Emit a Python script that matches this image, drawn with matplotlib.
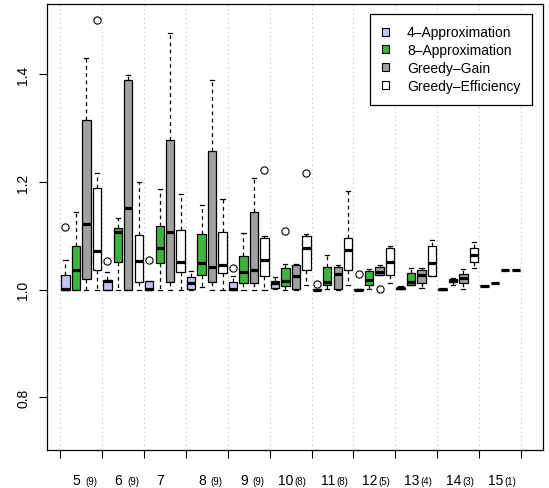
import numpy as np
import matplotlib
matplotlib.use('Agg')
import matplotlib.pyplot as plt
from matplotlib.patches import Patch

plt.rcParams['font.family'] = ['Liberation Sans', 'DejaVu Sans']

# instance sizes on the x axis and number of instances per size
sizes = ['5', '6', '7', '8', '9', '10', '11', '12', '13', '14', '15']
counts = ['(9)', '(9)', '', '(9)', '(9)', '(8)', '(8)', '(5)', '(4)', '(3)', '(1)']

series_names = ['4\u2013Approximation', '8\u2013Approximation', 'Greedy\u2013Gain', 'Greedy\u2013Efficiency']
series_colors = ['#C4C4F2', '#3DB53D', '#A0A0A0', '#FFFFFF']

# box statistics per size: [whislo, q1, med, q3, whishi]
approx4 = [
    [1.000, 1.000, 1.001, 1.028, 1.055],
    [1.000, 1.000, 1.016, 1.018, 1.032],
    [1.000, 1.000, 1.002, 1.016, 1.016],
    [1.000, 1.001, 1.012, 1.024, 1.035],
    [1.000, 1.000, 1.001, 1.014, 1.026],
    [1.001, 1.003, 1.012, 1.017, 1.023],
    [1.000, 1.000, 1.000, 1.001, 1.001],
    [1.000, 1.000, 1.000, 1.001, 1.001],
    [1.002, 1.002, 1.003, 1.004, 1.006],
    [1.000, 1.000, 1.001, 1.001, 1.001],
    [1.006, 1.006, 1.006, 1.006, 1.006],
]
approx8 = [
    [1.000, 1.000, 1.036, 1.082, 1.144],
    [1.000, 1.051, 1.107, 1.115, 1.133],
    [1.000, 1.049, 1.077, 1.118, 1.187],
    [1.005, 1.027, 1.049, 1.103, 1.158],
    [1.000, 1.012, 1.032, 1.062, 1.105],
    [1.000, 1.006, 1.017, 1.040, 1.048],
    [1.001, 1.009, 1.015, 1.043, 1.064],
    [1.002, 1.009, 1.018, 1.034, 1.038],
    [1.008, 1.009, 1.014, 1.031, 1.040],
    [1.009, 1.014, 1.016, 1.019, 1.021],
    [1.012, 1.012, 1.012, 1.012, 1.012],
]
greedy_gain = [
    [1.000, 1.019, 1.122, 1.316, 1.430],
    [1.000, 1.000, 1.151, 1.390, 1.399],
    [1.000, 1.014, 1.108, 1.279, 1.478],
    [1.000, 1.015, 1.043, 1.257, 1.390],
    [1.000, 1.012, 1.037, 1.144, 1.207],
    [1.000, 1.001, 1.025, 1.045, 1.048],
    [1.000, 1.001, 1.030, 1.042, 1.046],
    [1.027, 1.027, 1.033, 1.043, 1.045],
    [1.003, 1.012, 1.028, 1.037, 1.040],
    [1.001, 1.012, 1.021, 1.029, 1.038],
    [1.036, 1.036, 1.036, 1.036, 1.036],
]
greedy_eff = [
    [1.000, 1.036, 1.072, 1.189, 1.216],
    [1.000, 1.015, 1.054, 1.101, 1.200],
    [1.000, 1.032, 1.052, 1.111, 1.177],
    [1.000, 1.031, 1.046, 1.107, 1.168],
    [1.000, 1.025, 1.055, 1.097, 1.099],
    [1.009, 1.037, 1.078, 1.099, 1.104],
    [1.009, 1.037, 1.074, 1.097, 1.184],
    [1.012, 1.027, 1.052, 1.077, 1.081],
    [1.026, 1.026, 1.050, 1.082, 1.092],
    [1.040, 1.052, 1.065, 1.077, 1.088],
    [1.036, 1.036, 1.036, 1.036, 1.036],
]

# outliers, keyed by size index
fliers4 = {0: [1.117], 1: [1.053], 2: [1.056], 4: [1.041], 6: [1.011], 7: [1.029]}
fliers8 = {5: [1.109]}
fliers_gain = {7: [1.001]}
fliers_eff = {0: [1.501], 4: [1.223], 5: [1.216]}

all_series = [approx4, approx8, greedy_gain, greedy_eff]
all_fliers = [fliers4, fliers8, fliers_gain, fliers_eff]
offsets = [-0.375, -0.125, 0.125, 0.375]
box_w = 0.2

fig = plt.figure(figsize=(5.49, 4.89), dpi=100)
ax = fig.add_axes([0.0849, 0.0783, 0.9036, 0.9121])

groups = np.arange(1, len(sizes) + 1)
for stats_rows, flier_map, off, color in zip(all_series, all_fliers, offsets, series_colors):
    stats = []
    for i, row in enumerate(stats_rows):
        lo, q1, med, q3, hi = row
        stats.append(dict(whislo=lo, q1=q1, med=med, q3=q3, whishi=hi,
                          fliers=flier_map.get(i, [])))
    ax.bxp(stats, positions=groups + off, widths=box_w, capwidths=box_w / 2,
           patch_artist=True, manage_ticks=False,
           boxprops=dict(facecolor=color, edgecolor='black', linewidth=0.9),
           medianprops=dict(color='black', linewidth=2.3, solid_capstyle='butt'),
           whiskerprops=dict(color='black', linewidth=0.9, linestyle=(0, (3, 2.8))),
           capprops=dict(color='black', linewidth=0.9),
           flierprops=dict(marker='o', markerfacecolor='none', markeredgecolor='black',
                           markersize=5.2, markeredgewidth=0.8))

ax.set_xlim(0.175, 12.018)
ax.set_ylim(0.7026, 1.5316)

ax.set_xticks(np.arange(0.5, len(sizes) + 1, 1))
ax.set_xticklabels([])
ax.xaxis.grid(True, linestyle=(0, (1, 3)), color='#BEBEBE', linewidth=0.8)
ax.set_axisbelow(True)

ax.set_yticks([0.8, 1.0, 1.2, 1.4])
ax.set_yticklabels(['0.8', '1.0', '1.2', '1.4'])
ax.tick_params(axis='both', direction='out', length=5.8, width=0.8, colors='black',
               labelsize=10)
ax.tick_params(axis='y', labelrotation=90, pad=6)
for lbl in ax.get_yticklabels():
    lbl.set_va('center')

for spine in ax.spines.values():
    spine.set_linewidth(0.9)
    spine.set_color('black')

# size labels with the instance count set in smaller type
px = 0.72
for g, num, cnt in zip(groups, sizes, counts):
    dx = -1 if len(num) == 1 else 3
    ax.annotate(num, xy=(g, 3.5), xycoords=('data', 'figure pixels'),
                xytext=(dx * px, 0), textcoords='offset points',
                ha='right', va='baseline', fontsize=10)
    if cnt:
        ax.annotate(cnt, xy=(g, 3.5), xycoords=('data', 'figure pixels'),
                    xytext=(4 * px, 0), textcoords='offset points',
                    ha='left', va='baseline', fontsize=7)

handles = [Patch(facecolor=c, edgecolor='black', linewidth=0.8, label=n)
           for c, n in zip(series_colors, series_names)]
ax.legend(handles=handles, loc='upper right', bbox_to_anchor=(0.979, 0.9776),
          frameon=True, fancybox=False, edgecolor='black', framealpha=1,
          fontsize=10, handlelength=0.5, handleheight=0.5, handletextpad=1.3,
          labelspacing=0.27, borderpad=0.85, borderaxespad=0)
ax.get_legend().get_frame().set_linewidth(0.9)

fig.savefig('out.png', dpi=100)
